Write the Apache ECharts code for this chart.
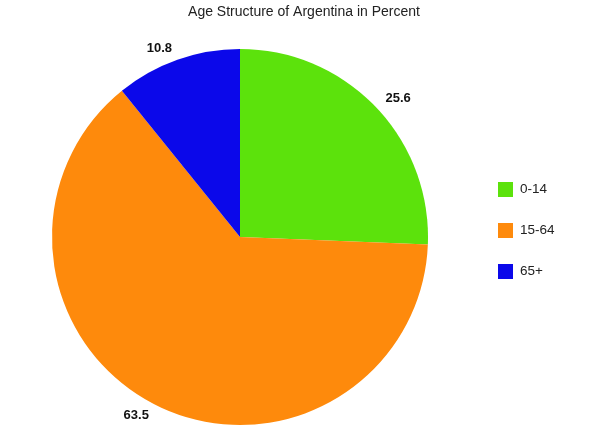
<!DOCTYPE html>
<html>
<head>
<meta charset="utf-8">
<script src="https://cdn.jsdelivr.net/npm/echarts@6/dist/echarts.min.js"></script>
<style>
  html, body { margin: 0; padding: 0; background: #fff; }
</style>
</head>
<body>
<div id="age-pie-container" style="width: 595px; height: 435px"></div>
<script>
// age groups and their share of the population (percent)
var categories = ["0-14", "15-64", "65+"];
var values = [25.6, 63.5, 10.8];
var colors = ["#5ce20c", "#fe8a0c", "#0b08ea"];

var pieData = categories.map(function (name, i) {
  return { name: name, value: values[i], itemStyle: { color: colors[i] } };
});

// the value labels sit just outside the pie with their nearest corner
// pointing at the slice, so pad the text box away from the pie
var total = values.reduce(function (a, b) { return a + b; }, 0);
var labelW = 28, labelH = 12;
var acc = 0;
var labelData = categories.map(function (name, i) {
  var mid = ((acc + values[i] / 2) / total) * Math.PI * 2; // from top, clockwise
  acc += values[i];
  var right = Math.sin(mid) > 0;
  var top = Math.cos(mid) > 0;
  return {
    name: name,
    value: values[i],
    label: {
      padding: [top ? 0 : labelH, right ? 0 : labelW, top ? labelH : 0, right ? labelW : 0],
    },
  };
});

var option = {
  animation: false,
  title: {
    text: "Age Structure of Argentina in Percent",
    left: 299,
    textAlign: "center",
    top: 0,
    textStyle: {
      fontFamily: "Liberation Sans",
      fontSize: 14,
      fontWeight: "normal",
      color: "#222",
    },
  },
  legend: {
    orient: "vertical",
    left: 493,
    top: 177,
    itemWidth: 15,
    itemHeight: 15,
    itemGap: 26,
    icon: "rect",
    data: categories,
    textStyle: {
      fontFamily: "Liberation Sans",
      fontSize: 13.5,
      color: "#222",
      padding: [0, 0, 0, 2],
    },
  },
  series: [
    {
      name: "Age Structure",
      type: "pie",
      center: [240, 237],
      radius: 188,
      startAngle: 90,
      clockwise: true,
      label: { show: false },
      labelLine: { show: false },
      emphasis: { disabled: true },
      data: pieData,
    },
    {
      name: "labels",
      type: "pie",
      center: [240, 237],
      radius: [190, 204],
      startAngle: 90,
      clockwise: true,
      silent: true,
      legendHoverLink: false,
      itemStyle: { color: "rgba(0,0,0,0)" },
      label: {
        show: true,
        position: "inside",
        formatter: function (p) {
          return p.value.toFixed(1);
        },
        fontFamily: "Liberation Sans",
        fontSize: 13,
        fontWeight: "bold",
        color: "#111",
      },
      labelLine: { show: false },
      data: labelData,
    },
  ],
};

var myChart = echarts.init(document.getElementById("age-pie-container"));
myChart.setOption(option);
</script>
</body>
</html>
